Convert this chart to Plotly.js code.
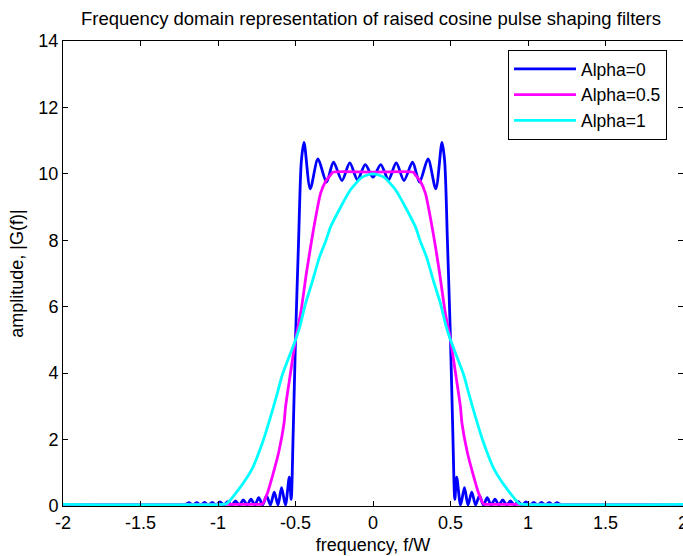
<!DOCTYPE html>
<html>
<head>
<meta charset="utf-8">
<script src="https://cdn.plot.ly/plotly-3.0.1.min.js"></script>
<style>
  html, body { margin: 0; padding: 0; background: #fff; }
  #chart { width: 683px; height: 556px; }
</style>
</head>
<body>
<div id="chart"></div>
<script>
// Alpha = 0
const fAlpha0 = [-2.0, -1.212, -1.187, -1.162, -1.137, -1.112, -1.087, -1.062, -1.037, -1.012, -0.987, -0.962, -0.937, -0.912, -0.887, -0.862, -0.837, -0.812, -0.787, -0.762, -0.737, -0.712, -0.687, -0.662, -0.637, -0.613, -0.59, -0.565, -0.54, -0.528, -0.515, -0.5, -0.48, -0.462, -0.445, -0.405, -0.355, -0.3, -0.255, -0.2, -0.15, -0.1, -0.05,
  0,
  0.05, 0.1, 0.15, 0.2, 0.255, 0.3, 0.355, 0.405, 0.445, 0.462, 0.48, 0.5, 0.515, 0.528, 0.54, 0.565, 0.59, 0.613, 0.637, 0.662, 0.687, 0.712, 0.737, 0.762, 0.787, 0.812, 0.837, 0.862, 0.887, 0.912, 0.937, 0.962, 0.987, 1.012, 1.037, 1.062, 1.087, 1.112, 1.137, 1.162, 1.187, 1.212, 2.0];
const gAlpha0 = [0.05, 0.05, 0.1, 0.03, 0.1, 0.03, 0.11, 0.03, 0.11, 0.03, 0.12, 0.03, 0.13, 0.03, 0.15, 0.03, 0.18, 0.03, 0.21, 0.03, 0.25, 0.03, 0.31, 0.03, 0.42, 0.03, 0.55, 0.03, 0.87, 0.2, 2.2, 5.0, 8.0, 10.4, 10.95, 9.55, 10.45, 9.75, 10.35, 9.8, 10.33, 9.82, 10.28,
  9.9,
  10.28, 9.82, 10.33, 9.8, 10.35, 9.75, 10.45, 9.55, 10.95, 10.4, 8.0, 5.0, 2.2, 0.2, 0.87, 0.03, 0.55, 0.03, 0.42, 0.03, 0.31, 0.03, 0.25, 0.03, 0.21, 0.03, 0.18, 0.03, 0.15, 0.03, 0.13, 0.03, 0.12, 0.03, 0.11, 0.03, 0.11, 0.03, 0.1, 0.03, 0.1, 0.05, 0.05];

// Alpha = 0.5
const fAlpha05 = [-2.0, -0.75, -0.714, -0.682, -0.65, -0.607, -0.574, -0.564, -0.542, -0.5, -0.465, -0.43, -0.385, -0.338, -0.306, -0.273, -0.26,
  0,
  0.26, 0.273, 0.306, 0.338, 0.385, 0.43, 0.465, 0.5, 0.542, 0.564, 0.574, 0.607, 0.65, 0.682, 0.714, 0.75, 2.0];
const gAlpha05 = [0.05, 0.05, 0.06, 0.38, 0.88, 1.65, 2.49, 2.99, 3.7, 5.0, 5.85, 7.0, 8.3, 9.42, 9.77, 9.97, 10.05,
  10.05,
  10.05, 9.97, 9.77, 9.42, 8.3, 7.0, 5.85, 5.0, 3.7, 2.99, 2.49, 1.65, 0.88, 0.38, 0.06, 0.05, 0.05];

// Alpha = 1
const fAlpha1 = [-2.0, -0.97, -0.945, -0.87, -0.78, -0.71, -0.66, -0.62, -0.585, -0.5, -0.472, -0.435, -0.395, -0.345, -0.306, -0.273, -0.145, -0.07,
  0,
  0.07, 0.145, 0.273, 0.306, 0.345, 0.395, 0.435, 0.472, 0.5, 0.585, 0.62, 0.66, 0.71, 0.78, 0.87, 0.945, 0.97, 2.0];
const gAlpha1 = [0.05, 0.05, 0.07, 0.48, 1.12, 1.95, 2.7, 3.35, 3.95, 5.0, 5.4, 6.1, 6.7, 7.5, 7.96, 8.41, 9.52, 9.9,
  10.0,
  9.9, 9.52, 8.41, 7.96, 7.5, 6.7, 6.1, 5.4, 5.0, 3.95, 3.35, 2.7, 1.95, 1.12, 0.48, 0.07, 0.05, 0.05];

const seriesNames = ['Alpha=0', 'Alpha=0.5', 'Alpha=1'];
const xTicks = [-2, -1.5, -1, -0.5, 0, 0.5, 1, 1.5, 2];
const xTickText = ['-2', '-1.5', '-1', '-0.5', '0', '0.5', '1', '1.5', '2'];
const yTicks = [0, 2, 4, 6, 8, 10, 12, 14];

const FONT = '"Liberation Sans", Arial, Helvetica, sans-serif';

const traces = [
  {x: fAlpha0, y: gAlpha0, name: seriesNames[0], mode: 'lines',
   line: {color: '#0000ff', width: 2.8, shape: 'spline', smoothing: 0.8}},
  {x: fAlpha05, y: gAlpha05, name: seriesNames[1], mode: 'lines',
   line: {color: '#ff00ff', width: 2.8, shape: 'spline', smoothing: 0.6}},
  {x: fAlpha1, y: gAlpha1, name: seriesNames[2], mode: 'lines',
   line: {color: '#00ffff', width: 2.8, shape: 'spline', smoothing: 0.6}}
];

const axisCommon = {
  showgrid: false, zeroline: false, showline: true, linecolor: '#000', linewidth: 1,
  mirror: 'ticks', ticks: 'inside', ticklen: 5, tickwidth: 1, tickcolor: '#000',
  ticklabeloverflow: 'allow',
  tickfont: {family: FONT, size: 18, color: '#000'}
};

const layout = {
  width: 683, height: 556,
  paper_bgcolor: '#fff', plot_bgcolor: '#fff',
  margin: {l: 63, r: 0, t: 41, b: 50, pad: 0},
  showlegend: true,
  title: {text: 'Frequency domain representation of raised cosine pulse shaping filters',
          font: {family: FONT, size: 18.5, color: '#000'},
          x: 371 / 683, xanchor: 'center', xref: 'container',
          y: 1 - 19 / 556, yanchor: 'middle', yref: 'container'},
  xaxis: Object.assign({}, axisCommon, {
    range: [-2, 2], tickvals: xTicks, ticktext: xTickText,
    title: {text: 'frequency, f/W', font: {family: FONT, size: 18, color: '#000'}, standoff: 6}
  }),
  yaxis: Object.assign({}, axisCommon, {
    range: [0, 14], tickvals: yTicks,
    title: {text: 'amplitude, |G(f)|', font: {family: FONT, size: 18, color: '#000'}, standoff: 10}
  }),
  legend: {
    x: (508 - 63) / 620, y: 0.9806, xanchor: 'left', yanchor: 'top',
    bgcolor: '#fff', bordercolor: '#000', borderwidth: 1,
    font: {family: FONT, size: 17.5, color: '#000'},
    itemwidth: 62, tracegroupgap: 0
  }
};

Plotly.newPlot('chart', traces, layout, {displayModeBar: false, staticPlot: true});
</script>
</body>
</html>
